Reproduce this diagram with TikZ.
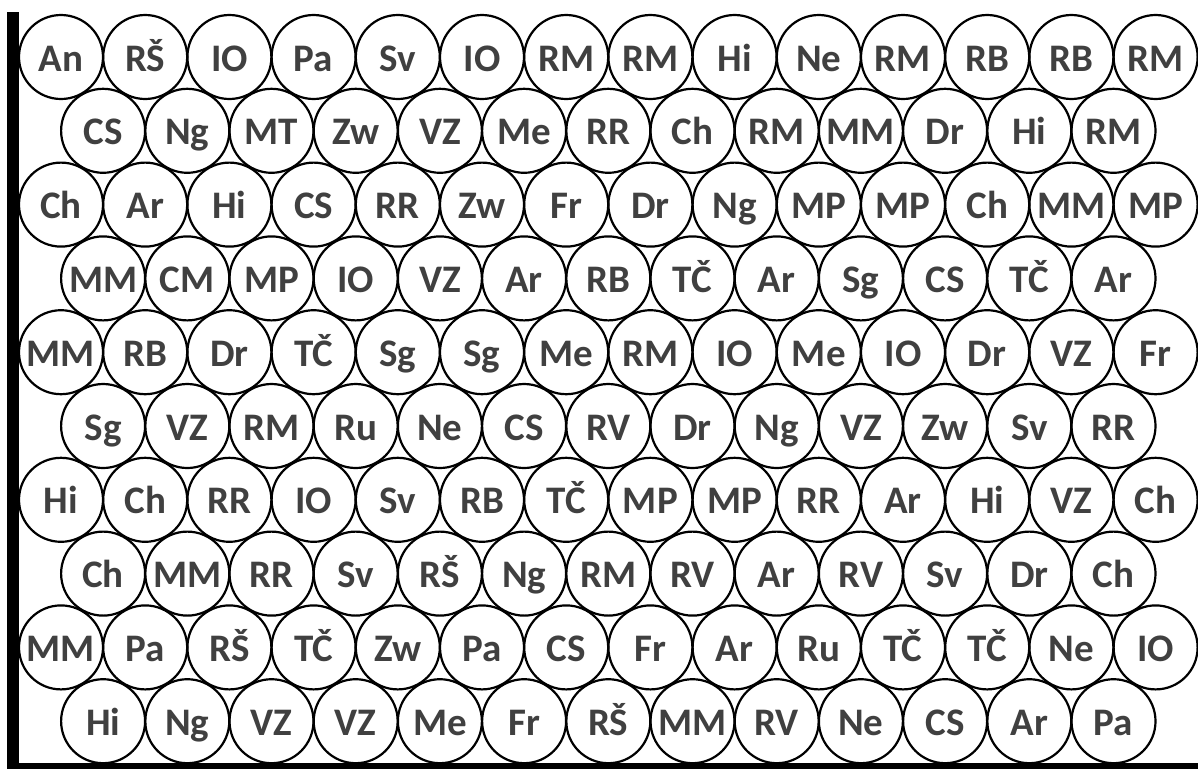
\documentclass[tikz,border=0pt]{standalone}
\usepackage{fontspec}
\setmainfont{Carlito}
\definecolor{txt}{HTML}{404040}
\tikzset{
  cell/.style={circle, draw=black, line width=2.2pt, minimum size=84pt, inner sep=0pt,
    text height=28pt, text depth=0pt, text=txt,
    font=\fontsize{39pt}{42pt}\selectfont\bfseries},
  bar/.style={fill=black, draw=none}
}
\begin{document}
\begin{tikzpicture}[x=1pt,y=-1pt]
\useasboundingbox (0,0) rectangle (1198,769);
\fill[white] (0,0) rectangle (1198,769);
\def\rowA{An,RŠ,IO,Pa,Sv,IO,RM,RM,Hi,Ne,RM,RB,RB,RM}
\def\rowB{CS,Ng,MT,Zw,VZ,Me,RR,Ch,RM,MM,Dr,Hi,RM}
\def\rowC{Ch,Ar,Hi,CS,RR,Zw,Fr,Dr,Ng,MP,MP,Ch,MM,MP}
\def\rowD{MM,CM,MP,IO,VZ,Ar,RB,TČ,Ar,Sg,CS,TČ,Ar}
\def\rowE{MM,RB,Dr,TČ,Sg,Sg,Me,RM,IO,Me,IO,Dr,VZ,Fr}
\def\rowF{Sg,VZ,RM,Ru,Ne,CS,RV,Dr,Ng,VZ,Zw,Sv,RR}
\def\rowG{Hi,Ch,RR,IO,Sv,RB,TČ,MP,MP,RR,Ar,Hi,VZ,Ch}
\def\rowH{Ch,MM,RR,Sv,RŠ,Ng,RM,RV,Ar,RV,Sv,Dr,Ch}
\def\rowI{MM,Pa,RŠ,TČ,Zw,Pa,CS,Fr,Ar,Ru,TČ,TČ,Ne,IO}
\def\rowJ{Hi,Ng,VZ,VZ,Me,Fr,RŠ,MM,RV,Ne,CS,Ar,Pa}
\foreach \r/\lst in {0/\rowA,1/\rowB,2/\rowC,3/\rowD,4/\rowE,5/\rowF,6/\rowG,7/\rowH,8/\rowI,9/\rowJ}{
  \pgfmathsetmacro{\yy}{57+73.8*\r}
  \pgfmathsetmacro{\xo}{mod(\r,2)==0 ? 61 : 103.1}
  \edef\curlist{\lst}
  \foreach \t [count=\j from 0] in \curlist {
    \node[cell] (c-\r-\j) at ({\xo+84.2*\j},\yy) {\t};
  }
}
\fill[bar] (7,12) rectangle (19,769);
\fill[bar] (7,763) rectangle (1198,769);
\end{tikzpicture}
\end{document}
